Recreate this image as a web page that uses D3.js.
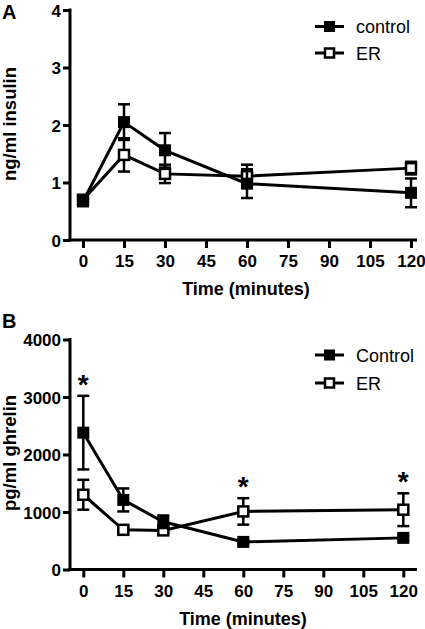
<!DOCTYPE html>
<html><head><meta charset="utf-8">
<script src="https://cdn.jsdelivr.net/npm/d3@7"></script>
<style>body{margin:0;background:#fff}svg{display:block}text{font-family:Arial,"Liberation Sans",Helvetica,sans-serif}</style>
</head><body>
<script>
const times = [0, 15, 30, 60, 120];
const xTicks = [0, 15, 30, 45, 60, 75, 90, 105, 120];

const insulinControl = [0.67, 2.05, 1.56, 0.98, 0.82];
const insulinControlErr = [0.05, 0.31, 0.30, 0.25, 0.25];
const insulinER = [0.70, 1.48, 1.15, 1.11, 1.25];
const insulinERErr = [0.05, 0.29, 0.16, 0.20, 0.11];
const insulinTicks = [0, 1, 2, 3, 4];

const ghrelinControl = [2380, 1210, 830, 480, 550];
const ghrelinControlErr = [640, 200, 110, 40, 40];
const ghrelinER = [1300, 690, 680, 1010, 1040];
const ghrelinERErr = [260, 40, 40, 230, 285];
const ghrelinTicks = [0, 1000, 2000, 3000, 4000];
const ghrelinStars = [0, 60, 120];

const W = 425, H = 629;
const svg = d3.select("body").append("svg").attr("width", W).attr("height", H);

function panel(cfg) {
  const g = svg.append("g");
  const x = d3.scaleLinear().domain([0, 120]).range(cfg.xRange);
  const y = d3.scaleLinear().domain(cfg.yDomain).range(cfg.yRange);
  const axX = 70;
  const y0 = cfg.yRange[0];

  // y axis
  const yAxis = d3.axisLeft(y).tickValues(cfg.yTicks).tickFormat(d3.format("d")).tickSize(7).tickPadding(2).tickSizeOuter(0);
  const gy = g.append("g").attr("transform", `translate(${axX},0)`).call(yAxis);
  gy.select(".domain").attr("stroke", "#000").attr("stroke-width", 3)
    .attr("d", `M0,${cfg.yRange[1] - 1.5}V${y0 + 1.5}`);
  gy.selectAll(".tick line").attr("stroke", "#000").attr("stroke-width", 3);
  gy.selectAll(".tick text").attr("fill", "#000").attr("font-size", 17).attr("font-weight", "bold").attr("dy", "0.36em");

  // x axis
  const xAxis = d3.axisBottom(x).tickValues(xTicks).tickFormat(d3.format("d")).tickSize(8).tickPadding(7).tickSizeOuter(0);
  const gx = g.append("g").attr("transform", `translate(0,${y0})`).call(xAxis);
  gx.select(".domain").attr("stroke", "#000").attr("stroke-width", 3)
    .attr("d", `M${axX - 1.5},0H${cfg.xEnd}`);
  gx.selectAll(".tick line").attr("stroke", "#000").attr("stroke-width", 3);
  gx.selectAll(".tick text").attr("fill", "#000").attr("font-size", 17).attr("font-weight", "bold").attr("dy", "0.71em");

  // titles
  g.append("text").attr("x", cfg.xTitleX).attr("y", y0 + 55).attr("text-anchor", "middle")
    .attr("font-size", 18).attr("font-weight", "bold").text("Time (minutes)");
  g.append("text").attr("transform", `translate(16,${cfg.yTitleY}) rotate(-90)`).attr("text-anchor", "middle")
    .attr("font-size", 18.5).attr("font-weight", "bold").text(cfg.yTitle);
  g.append("text").attr("x", 2).attr("y", cfg.letterY).attr("font-size", 20).attr("font-weight", "bold").text(cfg.letter);

  const line = d3.line().x(d => x(d.t)).y(d => y(d.v));
  function series(vals, errs, filled) {
    const data = times.map((t, i) => ({ t, v: vals[i], e: errs[i] }));
    const s = g.append("g");
    s.append("path").datum(data).attr("d", line).attr("fill", "none").attr("stroke", "#000").attr("stroke-width", 3);
    const eb = s.selectAll(".eb").data(data).join("g");
    eb.append("line").attr("x1", d => x(d.t)).attr("x2", d => x(d.t))
      .attr("y1", d => y(d.v - d.e)).attr("y2", d => y(d.v + d.e)).attr("stroke", "#000").attr("stroke-width", 2.5);
    eb.append("line").attr("x1", d => x(d.t) - 6).attr("x2", d => x(d.t) + 6)
      .attr("y1", d => y(d.v + d.e)).attr("y2", d => y(d.v + d.e)).attr("stroke", "#000").attr("stroke-width", 2.5);
    eb.append("line").attr("x1", d => x(d.t) - 6).attr("x2", d => x(d.t) + 6)
      .attr("y1", d => y(d.v - d.e)).attr("y2", d => y(d.v - d.e)).attr("stroke", "#000").attr("stroke-width", 2.5);
    const sz = filled ? 12 : 10;
    s.selectAll("rect").data(data).join("rect")
      .attr("x", d => x(d.t) - sz / 2).attr("y", d => y(d.v) - sz / 2)
      .attr("width", sz).attr("height", sz)
      .attr("fill", filled ? "#000" : "#fff").attr("stroke", "#000").attr("stroke-width", filled ? 0 : 2.5);
  }
  series(cfg.er, cfg.erErr, false);
  series(cfg.ctrl, cfg.ctrlErr, true);

  // legend
  const legend = [{ name: cfg.ctrlName, filled: true, y: cfg.legY[0] }, { name: "ER", filled: false, y: cfg.legY[1] }];
  legend.forEach(l => {
    g.append("line").attr("x1", 315).attr("x2", 344).attr("y1", l.y).attr("y2", l.y).attr("stroke", "#000").attr("stroke-width", 3);
    const sz = l.filled ? 11 : 9;
    g.append("rect").attr("x", 329.5 - sz / 2).attr("y", l.y - sz / 2).attr("width", sz).attr("height", sz)
      .attr("fill", l.filled ? "#000" : "#fff").attr("stroke", "#000").attr("stroke-width", l.filled ? 0 : 2.5);
    g.append("text").attr("x", 356).attr("y", l.y + 6.5).attr("font-size", 18).text(l.name);
  });

  if (cfg.stars) {
    cfg.stars.forEach(t => {
      const i = times.indexOf(t);
      const top = Math.max(cfg.ctrl[i] + cfg.ctrlErr[i], cfg.er[i] + cfg.erErr[i]);
      g.append("text").attr("x", x(t)).attr("y", y(top) - 2).attr("text-anchor", "middle")
        .attr("font-size", 28).attr("font-weight", "bold").text("*");
    });
  }
}

panel({
  xRange: [83, 411], xEnd: 417, yDomain: [0, 4], yRange: [240, 10], yTicks: insulinTicks,
  yTitle: "ng/ml insulin", yTitleY: 124, xTitleX: 246, letter: "A", letterY: 19,
  ctrl: insulinControl, ctrlErr: insulinControlErr, er: insulinER, erErr: insulinERErr,
  ctrlName: "control", legY: [26.5, 53]
});
panel({
  xRange: [83.3, 403.3], xEnd: 417, yDomain: [0, 4000], yRange: [569.5, 339.5], yTicks: ghrelinTicks,
  yTitle: "pg/ml ghrelin", yTitleY: 453, xTitleX: 243, letter: "B", letterY: 328,
  ctrl: ghrelinControl, ctrlErr: ghrelinControlErr, er: ghrelinER, erErr: ghrelinERErr,
  ctrlName: "Control", legY: [355, 383], stars: ghrelinStars
});
</script>
</body></html>
